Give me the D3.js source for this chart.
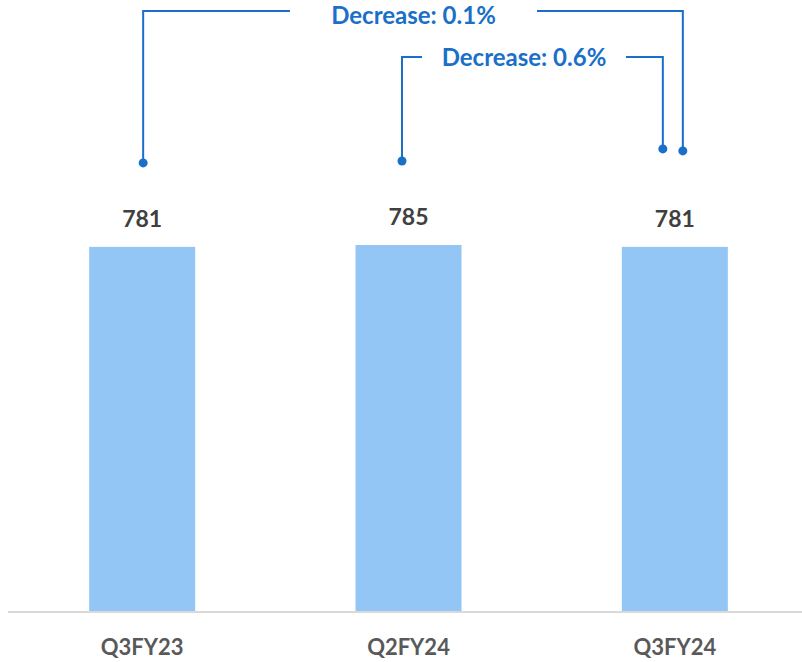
<!DOCTYPE html>
<html>
<head>
<meta charset="utf-8">
<script src="https://cdn.jsdelivr.net/npm/d3@7"></script>
<style>
  html, body { margin: 0; padding: 0; background: #ffffff; }
  svg { display: block; }
  text { font-family: Lato, "Open Sans", sans-serif; font-weight: 700; }
</style>
</head>
<body>
<svg id="chart" width="802" height="662"></svg>
<script>
// Quarterly values
const categories = ["Q3FY23", "Q2FY24", "Q3FY24"];
const values = [781, 785, 781];

// Change annotations: which two quarters they link and the label text
const changeFrom = ["Q3FY23", "Q2FY24"];
const changeTo = ["Q3FY24", "Q3FY24"];
const changeLabels = ["Decrease: 0.1%", "Decrease: 0.6%"];

const width = 802, height = 662;
const svg = d3.select("#chart");

const x = d3.scaleBand()
  .domain(categories)
  .range([9, 808])
  .paddingInner(0.602)
  .paddingOuter(0.301);

const y = d3.scaleLinear()
  .domain([0, 1000])
  .range([612, 144.5]);

// Bars
svg.append("g")
  .selectAll("rect")
  .data(categories)
  .join("rect")
  .attr("x", d => x(d))
  .attr("y", (d, i) => y(values[i]))
  .attr("width", x.bandwidth())
  .attr("height", (d, i) => y(0) - y(values[i]))
  .attr("fill", "#93c6f5");

// Baseline axis
const xAxis = svg.append("g")
  .attr("transform", `translate(0,${y(0)})`)
  .call(d3.axisBottom(x).tickSize(0).tickPadding(27));
xAxis.select(".domain")
  .attr("d", "M8,0H802")
  .attr("stroke", "#d9d9d9")
  .attr("stroke-width", 2);
xAxis.selectAll("text")
  .attr("fill", "#595959")
  .style("font-size", "22px")
  .style("font-family", "Lato, 'Open Sans', sans-serif")
  .style("font-weight", 700);

// Value labels
svg.append("g")
  .selectAll("text")
  .data(categories)
  .join("text")
  .attr("x", d => x(d) + x.bandwidth() / 2)
  .attr("y", (d, i) => y(values[i]) - 20)
  .attr("text-anchor", "middle")
  .attr("fill", "#404040")
  .style("font-size", "23px")
  .text((d, i) => values[i]);

// Bracket annotations connecting pairs of quarters
const blue = "#1a6fc9";
const brackets = [
  { lineY: 11, textY: 24, fromShift: 1, fromOffset: 84, toShift: 8, toOffset: 96, mid: 413.5, gapHalf: 123.5 },
  { lineY: 57, textY: 66, fromShift: -6.5, fromOffset: 84, toShift: -12, toOffset: 98, mid: 524, gapHalf: 102 }
];
const ann = svg.append("g");
brackets.forEach((b, k) => {
  const fi = categories.indexOf(changeFrom[k]);
  const ti = categories.indexOf(changeTo[k]);
  const x1 = x(changeFrom[k]) + x.bandwidth() / 2 + b.fromShift;
  const x2 = x(changeTo[k]) + x.bandwidth() / 2 + b.toShift;
  const y1 = y(values[fi]) - b.fromOffset;
  const y2 = y(values[ti]) - b.toOffset;
  ann.append("path")
    .attr("d", `M${x1},${y1}V${b.lineY}H${b.mid - b.gapHalf}`)
    .attr("fill", "none").attr("stroke", blue).attr("stroke-width", 2);
  ann.append("path")
    .attr("d", `M${b.mid + b.gapHalf},${b.lineY}H${x2}V${y2}`)
    .attr("fill", "none").attr("stroke", blue).attr("stroke-width", 2);
  ann.append("circle").attr("cx", x1).attr("cy", y1).attr("r", 4.5).attr("fill", blue);
  ann.append("circle").attr("cx", x2).attr("cy", y2).attr("r", 4.5).attr("fill", blue);
  ann.append("text")
    .attr("x", b.mid)
    .attr("y", b.textY)
    .attr("text-anchor", "middle")
    .attr("fill", blue)
    .style("font-size", "24px")
    .text(changeLabels[k]);
});
</script>
</body>
</html>
